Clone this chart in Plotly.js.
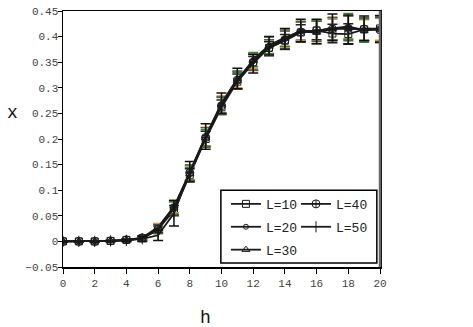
<!DOCTYPE html>
<html>
<head>
<meta charset="utf-8">
<script src="https://cdn.plot.ly/plotly-3.0.1.min.js"></script>
<style>
  body { margin: 0; padding: 0; background: #fff; }
  #chart { width: 473px; height: 327px; }
</style>
</head>
<body>
<div id="chart"></div>
<script>
// field values
const h = [0,1,2,3,4,5,6,7,8,9,10,11,12,13,14,15,16,17,18,19,20];

const x10 = [0,0,0,0.001,0.003,0.006,0.025,0.060,0.130,0.200,0.262,0.312,0.348,0.378,0.392,0.408,0.412,0.406,0.405,0.414,0.416];
const x20 = [0,0,0,0.001,0.003,0.007,0.028,0.068,0.135,0.205,0.268,0.316,0.352,0.380,0.395,0.410,0.410,0.414,0.418,0.413,0.415];
const x30 = [0,0,0,0.001,0.002,0.006,0.022,0.065,0.132,0.202,0.266,0.314,0.355,0.383,0.398,0.410,0.408,0.416,0.420,0.412,0.414];
const x40 = [0,0,0,0.001,0.003,0.007,0.024,0.066,0.134,0.203,0.265,0.315,0.350,0.378,0.393,0.409,0.412,0.415,0.416,0.415,0.413];
const x50 = [0,0,0,0.001,0.002,0.005,0.012,0.055,0.136,0.205,0.270,0.318,0.347,0.382,0.396,0.412,0.410,0.418,0.414,0.416,0.415];

// error bars
const e10 = [0.001,0.001,0.001,0.001,0.002,0.004,0.008,0.010,0.012,0.015,0.014,0.015,0.013,0.012,0.012,0.015,0.018,0.018,0.020,0.022,0.024];
const e20 = [0.001,0.001,0.001,0.001,0.002,0.004,0.007,0.012,0.014,0.018,0.016,0.016,0.015,0.014,0.016,0.018,0.020,0.020,0.022,0.020,0.022];
const e30 = [0.001,0.001,0.001,0.001,0.002,0.004,0.007,0.012,0.013,0.016,0.015,0.016,0.014,0.016,0.017,0.020,0.022,0.022,0.025,0.023,0.026];
const e40 = [0.001,0.001,0.001,0.001,0.002,0.004,0.008,0.014,0.015,0.019,0.017,0.018,0.016,0.016,0.018,0.020,0.021,0.022,0.024,0.022,0.024];
const e50 = [0.001,0.001,0.001,0.001,0.002,0.005,0.010,0.025,0.020,0.025,0.020,0.020,0.018,0.018,0.020,0.022,0.024,0.026,0.028,0.024,0.026];

const names = ['L=10','L=20','L=30','L=40','L=50'];
const ys = [x10, x20, x30, x40, x50];
const errs = [e10, e20, e30, e40, e50];
const symbols = ['square-open','circle-open','triangle-up-open','circle-cross-open','line-ns-open'];
const sizes = [7, 5, 7, 8, 8];
const errColors = ['#222222','#e8892a','#2e8b2e','#555555','#111111'];
// first three names in the left legend column, last two in the right one
const legendOf = ['legend','legend','legend','legend2','legend2'];

const font = 'Liberation Mono, Courier New, monospace';

const traces = names.map(function(n, i) {
  return {
    x: h,
    y: ys[i],
    name: n,
    type: 'scatter',
    mode: 'lines+markers',
    legend: legendOf[i],
    legendgroup: 'g' + i,
    line: {color: '#1a1a1a', width: 1.8},
    marker: {symbol: symbols[i], size: sizes[i], color: '#1a1a1a', line: {color: '#1a1a1a', width: 1}},
    error_y: {type: 'data', array: errs[i], visible: true, color: errColors[i], thickness: 1.5, width: 5}
  };
});

const legendStyle = function(xpos) {
  return {
    x: xpos, y: 0.305, xanchor: 'left', yanchor: 'top',
    orientation: 'v',
    bgcolor: 'rgba(0,0,0,0)',
    borderwidth: 0,
    tracegroupgap: 3,
    font: {family: font, size: 13, color: '#222'}
  };
};

const layout = {
  width: 473,
  height: 327,
  margin: {l: 63, r: 93, t: 11, b: 60},
  paper_bgcolor: '#fff',
  plot_bgcolor: '#fff',
  font: {family: font, size: 11, color: '#444'},
  showlegend: true,
  legend: legendStyle(0.514),
  legend2: legendStyle(0.735),
  xaxis: {
    range: [0, 20],
    dtick: 2,
    tick0: 0,
    ticks: 'outside',
    ticklen: 5,
    tickcolor: '#000',
    showgrid: false,
    zeroline: false,
    showline: true,
    linecolor: '#000',
    linewidth: 1.5,
    mirror: true
  },
  yaxis: {
    range: [-0.05, 0.45],
    dtick: 0.05,
    tick0: 0,
    ticks: 'outside',
    ticklen: 4,
    tickcolor: '#000',
    showgrid: false,
    zeroline: false,
    showline: true,
    linecolor: '#000',
    linewidth: 1.5,
    mirror: true,
    ticklabelstandoff: -3
  },
  annotations: [{
    text: 'x', xref: 'paper', yref: 'paper', x: -0.158, y: 0.60,
    showarrow: false, xanchor: 'center', yanchor: 'middle',
    font: {family: font, size: 18, color: '#111'}
  }, {
    text: 'h', xref: 'paper', yref: 'paper', x: 0.448, y: -0.20,
    showarrow: false, xanchor: 'center', yanchor: 'middle',
    font: {family: font, size: 18, color: '#111'}
  }],
  shapes: [{
    type: 'line', xref: 'paper', yref: 'paper', x0: 1, x1: 1, y0: 0, y1: 1,
    line: {color: '#666', width: 2.5}
  }, {
    // frame round the two legend columns
    type: 'rect', xref: 'paper', yref: 'paper', x0: 0.498, x1: 0.99, y0: 0.016, y1: 0.30,
    layer: 'above', fillcolor: '#fff',
    line: {color: '#000', width: 1.5}
  }]
};

Plotly.newPlot('chart', traces, layout, {displayModeBar: false, staticPlot: true});
</script>
</body>
</html>
